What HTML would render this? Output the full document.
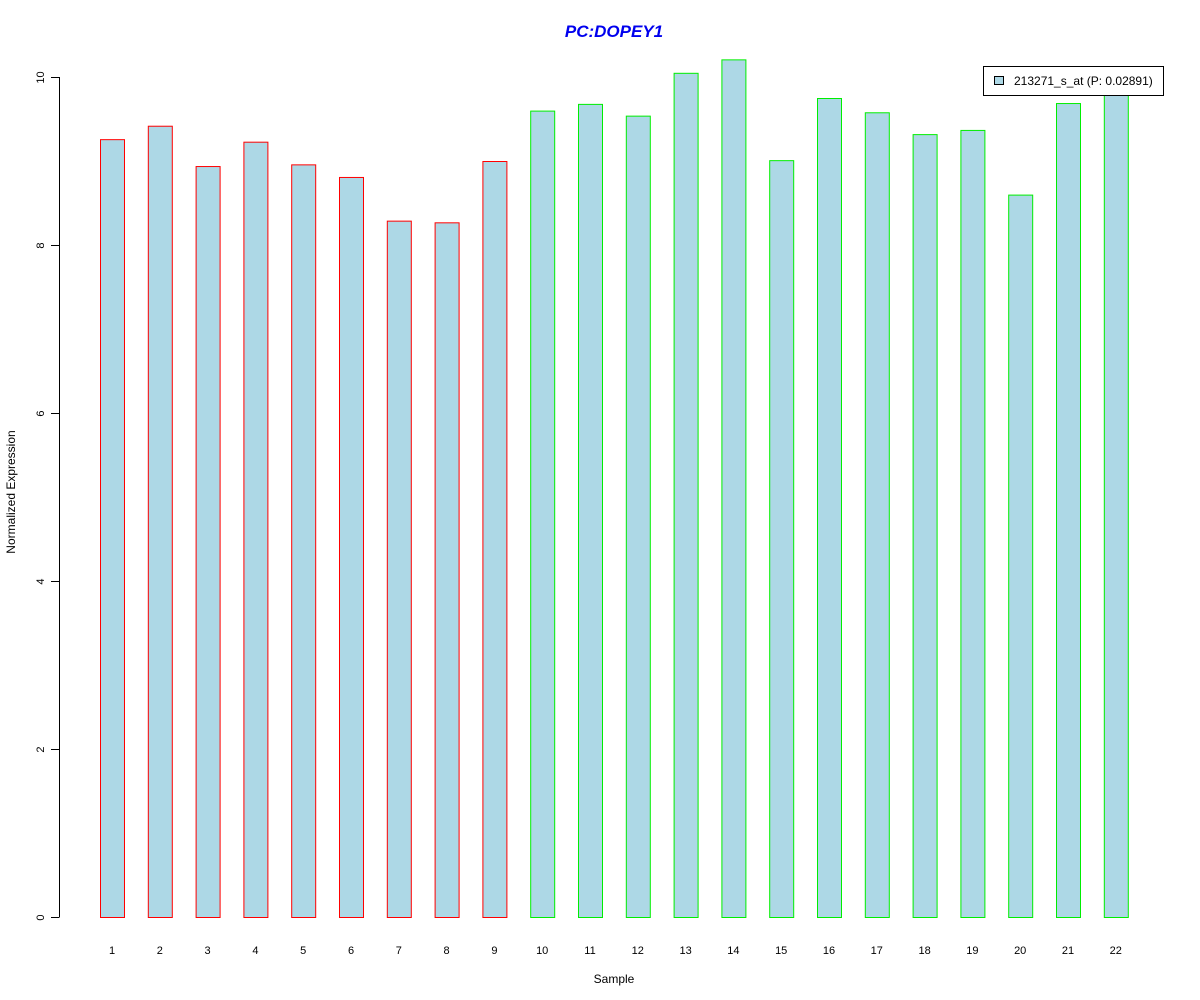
<!DOCTYPE html>
<html><head><meta charset="utf-8"><style>
html,body{margin:0;padding:0;background:#fff;}
svg{display:block;font-family:"Liberation Sans",Arial,sans-serif;}
</style></head><body>
<svg id="chart" width="1200" height="1000">
<text x="614" y="37" text-anchor="middle" font-size="17" font-weight="bold" font-style="italic" fill="#0000ee">PC:DOPEY1</text>
<text x="614" y="983" text-anchor="middle" font-size="12">Sample</text>
<text transform="translate(15,492) rotate(-90)" text-anchor="middle" font-size="12">Normalized Expression</text>
<g id="yaxis"></g>
<g id="bars"></g>
<g id="xlabels"></g>
<g>
<rect x="983.5" y="66.5" width="180" height="29" fill="#fff" stroke="#000"/>
<rect x="994.5" y="76.5" width="9" height="8" fill="#add8e6" stroke="#000"/>
<text x="1014" y="85" font-size="12">213271_s_at (P: 0.02891)</text>
</g>
</svg>
<script>
const categories = ["1","2","3","4","5","6","7","8","9","10","11","12","13","14","15","16","17","18","19","20","21","22"];
const values = [9.26,9.42,8.94,9.23,8.96,8.81,8.29,8.27,9.0,9.6,9.68,9.54,10.05,10.21,9.01,9.75,9.58,9.32,9.37,8.6,9.69,9.85];
const groups = ["a","a","a","a","a","a","a","a","a","b","b","b","b","b","b","b","b","b","b","b","b","b"];
const yTicks = [0,2,4,6,8,10];
const NS="http://www.w3.org/2000/svg";
const y0=917, pxPerUnit=84;
function yScale(v){return y0 - v*pxPerUnit;}
function xCenter(i){return 112 + i*47.8;}
const bw=24;
const bars=document.getElementById('bars');
values.forEach((v,i)=>{
  const r=document.createElementNS(NS,'rect');
  const x=xCenter(i)-bw/2;
  r.setAttribute('x',x+0.5);
  r.setAttribute('y',yScale(v)+0.5);
  r.setAttribute('width',bw);
  r.setAttribute('height',y0-yScale(v));
  r.setAttribute('fill','#add8e6');
  r.setAttribute('stroke',groups[i]==='a'?'#ff0000':'#00ee00');
  
  
  bars.appendChild(r);
});
const xl=document.getElementById('xlabels');
categories.forEach((c,i)=>{
  const t=document.createElementNS(NS,'text');
  t.setAttribute('x',xCenter(i));
  t.setAttribute('y',954);
  t.setAttribute('text-anchor','middle');
  t.setAttribute('font-size','11');
  t.textContent=c;
  
  
  xl.appendChild(t);
});
const ya=document.getElementById('yaxis');
const axis=document.createElementNS(NS,'line');
axis.setAttribute('x1',59.5);axis.setAttribute('x2',59.5);
axis.setAttribute('y1',yScale(yTicks[0]));axis.setAttribute('y2',yScale(yTicks[yTicks.length-1]));
axis.setAttribute('stroke','#000');


ya.appendChild(axis);
yTicks.forEach(v=>{
  const y=yScale(v)+0.5;
  const l=document.createElementNS(NS,'line');
  l.setAttribute('x1',51);l.setAttribute('x2',59.5);
  l.setAttribute('y1',y);l.setAttribute('y2',y);
  l.setAttribute('stroke','#000');
  
  
  ya.appendChild(l);
  const t=document.createElementNS(NS,'text');
  t.setAttribute('transform','translate(44,'+y+') rotate(-90)');
  t.setAttribute('text-anchor','middle');
  t.setAttribute('font-size','11');
  t.textContent=v;
  
  
  ya.appendChild(t);
});
</script>
</body></html>
